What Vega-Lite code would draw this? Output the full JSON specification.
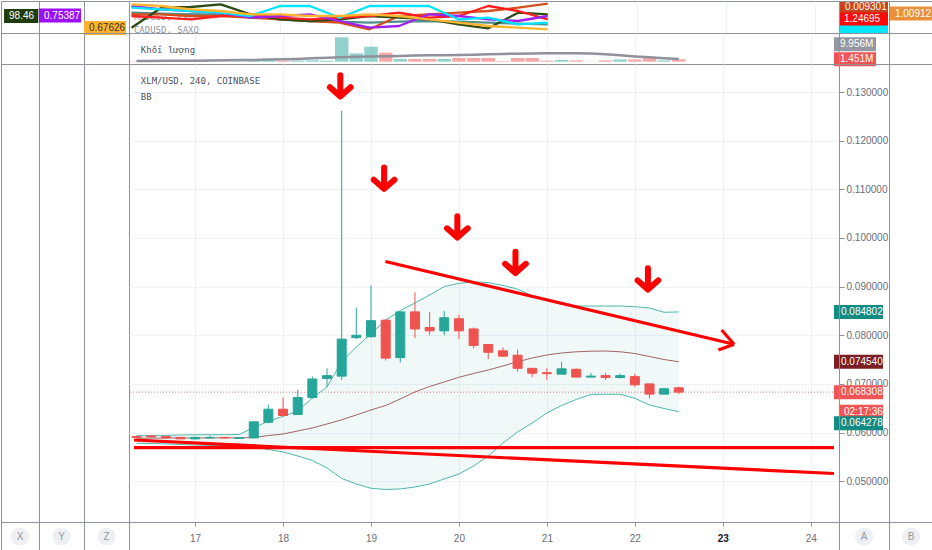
{
"$schema": "https://vega.github.io/schema/vega-lite/v6.json",
"background": "white",
"padding": 0,
"autosize": {"type": "pad"},
"columns": 6,
"spacing": 0,
"bounds": "flush",
"align": "each",
"config": {
  "view": {"stroke": null},
  "font": "Liberation Sans",
  "axis": {"labelFont": "Liberation Sans", "labelFontSize": 10, "labelColor": "#6a6d78", "gridColor": "#eef1f6", "domainColor": "#8f929c", "tickColor": "#8f929c"}
},
"datasets": {
  "candles": [
    {"t":16.333,"o":0.0592,"h":0.0593,"l":0.0589,"c":0.0590,"bu":0.05935,"bm":0.05885,"bl":0.05779,"vol":0.2,"vma":0.4},
    {"t":16.5,"o":0.0593,"h":0.0595,"l":0.0590,"c":0.0591,"bu":0.05939,"bm":0.05886,"bl":0.05775,"vol":0.3,"vma":0.45},
    {"t":16.667,"o":0.0592,"h":0.0593,"l":0.0588,"c":0.0589,"bu":0.05943,"bm":0.05887,"bl":0.05765,"vol":0.3,"vma":0.5},
    {"t":16.833,"o":0.0590,"h":0.0591,"l":0.0586,"c":0.0587,"bu":0.0595,"bm":0.05888,"bl":0.05755,"vol":0.2,"vma":0.55},
    {"t":17.0,"o":0.0587,"h":0.0592,"l":0.0586,"c":0.0590,"bu":0.05954,"bm":0.05889,"bl":0.05744,"vol":0.3,"vma":0.6},
    {"t":17.167,"o":0.0589,"h":0.0594,"l":0.0588,"c":0.0590,"bu":0.05956,"bm":0.0589,"bl":0.05734,"vol":0.2,"vma":0.7},
    {"t":17.333,"o":0.0590,"h":0.0591,"l":0.0588,"c":0.0589,"bu":0.05956,"bm":0.05891,"bl":0.0573,"vol":0.2,"vma":0.8},
    {"t":17.5,"o":0.0588,"h":0.0590,"l":0.0587,"c":0.0589,"bu":0.0596,"bm":0.05892,"bl":0.05724,"vol":0.3,"vma":0.9},
    {"t":17.667,"o":0.0589,"h":0.0623,"l":0.0588,"c":0.0622,"bu":0.06104,"bm":0.05897,"bl":0.05693,"vol":0.8,"vma":1.0},
    {"t":17.833,"o":0.0621,"h":0.0657,"l":0.0619,"c":0.0648,"bu":0.06231,"bm":0.05939,"bl":0.05652,"vol":1.6,"vma":1.2},
    {"t":18.0,"o":0.0648,"h":0.0672,"l":0.0633,"c":0.0635,"bu":0.06334,"bm":0.0597,"bl":0.056,"vol":0.6,"vma":1.4},
    {"t":18.167,"o":0.0637,"h":0.0688,"l":0.0636,"c":0.0672,"bu":0.06443,"bm":0.06032,"bl":0.05518,"vol":0.6,"vma":1.6},
    {"t":18.333,"o":0.0672,"h":0.0715,"l":0.0670,"c":0.0710,"bu":0.06714,"bm":0.06094,"bl":0.05426,"vol":0.8,"vma":1.9},
    {"t":18.5,"o":0.0711,"h":0.0732,"l":0.0694,"c":0.0717,"bu":0.06936,"bm":0.06176,"bl":0.05271,"vol":0.6,"vma":2.2},
    {"t":18.667,"o":0.0716,"h":0.1261,"l":0.0708,"c":0.0792,"bu":0.0746,"bm":0.06262,"bl":0.05056,"vol":13.83,"vma":2.5},
    {"t":18.833,"o":0.0795,"h":0.0857,"l":0.0792,"c":0.0800,"bu":0.07758,"bm":0.06361,"bl":0.04943,"vol":4.7,"vma":2.8},
    {"t":19.0,"o":0.0797,"h":0.0903,"l":0.0795,"c":0.0830,"bu":0.08026,"bm":0.06464,"bl":0.04854,"vol":8.5,"vma":3.0},
    {"t":19.167,"o":0.0831,"h":0.0833,"l":0.0748,"c":0.0753,"bu":0.08313,"bm":0.06556,"bl":0.0483,"vol":5.1,"vma":3.15},
    {"t":19.333,"o":0.0754,"h":0.0849,"l":0.0744,"c":0.0848,"bu":0.08509,"bm":0.0669,"bl":0.0484,"vol":1.53,"vma":3.3},
    {"t":19.5,"o":0.0848,"h":0.0888,"l":0.0794,"c":0.0813,"bu":0.08663,"bm":0.06834,"bl":0.04881,"vol":1.53,"vma":3.45},
    {"t":19.667,"o":0.0816,"h":0.0848,"l":0.0800,"c":0.0809,"bu":0.08827,"bm":0.06947,"bl":0.04943,"vol":1.53,"vma":3.6},
    {"t":19.833,"o":0.0809,"h":0.0850,"l":0.0800,"c":0.0836,"bu":0.09002,"bm":0.07039,"bl":0.05045,"vol":1.53,"vma":3.7},
    {"t":20.0,"o":0.0834,"h":0.0842,"l":0.0792,"c":0.0809,"bu":0.09068,"bm":0.07136,"bl":0.05148,"vol":2.1,"vma":3.85},
    {"t":20.167,"o":0.0813,"h":0.0816,"l":0.0773,"c":0.0779,"bu":0.09095,"bm":0.07214,"bl":0.05312,"vol":2.1,"vma":4.0},
    {"t":20.333,"o":0.0781,"h":0.0782,"l":0.0751,"c":0.0765,"bu":0.09085,"bm":0.07286,"bl":0.05518,"vol":2.1,"vma":4.2},
    {"t":20.5,"o":0.0768,"h":0.0775,"l":0.0756,"c":0.0757,"bu":0.09023,"bm":0.07368,"bl":0.05785,"vol":0.3,"vma":4.4},
    {"t":20.667,"o":0.0759,"h":0.0770,"l":0.0725,"c":0.0732,"bu":0.08951,"bm":0.07456,"bl":0.06011,"vol":2.1,"vma":4.55},
    {"t":20.833,"o":0.0732,"h":0.0733,"l":0.0714,"c":0.0722,"bu":0.08813,"bm":0.07532,"bl":0.06196,"vol":2.1,"vma":4.7},
    {"t":21.0,"o":0.0723,"h":0.0732,"l":0.0708,"c":0.0721,"bu":0.08714,"bm":0.07594,"bl":0.06402,"vol":0.57,"vma":4.76},
    {"t":21.167,"o":0.0720,"h":0.0746,"l":0.0720,"c":0.0731,"bu":0.08638,"bm":0.07635,"bl":0.06556,"vol":0.96,"vma":4.76},
    {"t":21.333,"o":0.0730,"h":0.0732,"l":0.0714,"c":0.0714,"bu":0.08601,"bm":0.0766,"bl":0.06679,"vol":0.75,"vma":4.76},
    {"t":21.5,"o":0.0714,"h":0.0722,"l":0.0714,"c":0.0716,"bu":0.08601,"bm":0.07672,"bl":0.06782,"vol":0.1,"vma":4.7},
    {"t":21.667,"o":0.0717,"h":0.0722,"l":0.0708,"c":0.0713,"bu":0.08601,"bm":0.07676,"bl":0.06786,"vol":0.75,"vma":4.2},
    {"t":21.833,"o":0.0713,"h":0.0721,"l":0.0711,"c":0.0717,"bu":0.08601,"bm":0.0766,"bl":0.06786,"vol":1.3,"vma":3.6},
    {"t":22.0,"o":0.0715,"h":0.0721,"l":0.0694,"c":0.0698,"bu":0.08587,"bm":0.07625,"bl":0.06704,"vol":1.3,"vma":3.0},
    {"t":22.167,"o":0.0700,"h":0.0701,"l":0.0670,"c":0.0679,"bu":0.0856,"bm":0.07563,"bl":0.06566,"vol":2.27,"vma":2.5},
    {"t":22.333,"o":0.0679,"h":0.0692,"l":0.0678,"c":0.0690,"bu":0.08472,"bm":0.07501,"bl":0.06494,"vol":0.75,"vma":2.0},
    {"t":22.5,"o":0.0692,"h":0.0694,"l":0.0679,"c":0.068308,"bu":0.084802,"bm":0.07454,"bl":0.064278,"vol":1.451,"vma":1.5}
  ],
  "cmp": [
    {"t":16.333,"teal":20.3,"rust":18.7,"dkgreen":5.3,"red":17,"purple":27,"cyan":25.3,"amber":28.7},
    {"t":16.667,"teal":19.3,"rust":18.7,"dkgreen":25.3,"red":15.3,"purple":23.7,"cyan":23.7,"amber":27},
    {"t":17.0,"teal":18.7,"rust":17,"dkgreen":26,"red":13.7,"purple":22,"cyan":22,"amber":23.7},
    {"t":17.333,"teal":18.7,"rust":17,"dkgreen":28.7,"red":17,"purple":20.3,"cyan":20.3,"amber":22},
    {"t":17.667,"teal":17,"rust":15.3,"dkgreen":18.7,"red":18.7,"purple":15.3,"cyan":17,"amber":18.7},
    {"t":18.0,"teal":13.7,"rust":13.7,"dkgreen":13.7,"red":15.3,"purple":17,"cyan":27,"amber":18.7},
    {"t":18.333,"teal":12,"rust":12,"dkgreen":12,"red":13.7,"purple":18.7,"cyan":27,"amber":17},
    {"t":18.667,"teal":11.3,"rust":10.3,"dkgreen":13.7,"red":15.3,"purple":12,"cyan":15.3,"amber":17},
    {"t":19.0,"teal":10.3,"rust":3.7,"dkgreen":17,"red":17,"purple":5.3,"cyan":27,"amber":18.7},
    {"t":19.333,"teal":11.3,"rust":17,"dkgreen":15.3,"red":20.3,"purple":7,"cyan":27,"amber":17},
    {"t":19.667,"teal":12,"rust":18.7,"dkgreen":13.7,"red":15.3,"purple":18.7,"cyan":27,"amber":13.7},
    {"t":20.0,"teal":11.3,"rust":20.3,"dkgreen":8.7,"red":17,"purple":17,"cyan":13.7,"amber":10.3},
    {"t":20.333,"teal":10.3,"rust":22,"dkgreen":4.7,"red":27,"purple":13.7,"cyan":15.3,"amber":7},
    {"t":20.667,"teal":9.3,"rust":25.3,"dkgreen":20.3,"red":22,"purple":12,"cyan":8.7,"amber":5.3},
    {"t":21.0,"teal":8.7,"rust":29.3,"dkgreen":18.7,"red":13.7,"purple":17,"cyan":10.3,"amber":3.7}
  ],
  "cmpText": [
    {"t":16.36,"v":13,"label":"AUDUSD, FXCM"},
    {"t":16.36,"v":0.5,"label":"CADUSD, SAXO"}
  ],
  "volText": [
    {"t":16.383,"v":5.1,"label":"Khối lượng"}
  ],
  "mainText": [
    {"t":16.383,"v":0.13165,"label":"XLM/USD, 240, COINBASE"},
    {"t":16.383,"v":0.12846,"label":"BB"}
  ],
  "cmpBadges": [
    {"t":14.904,"v":17,"label":"98.46","kind":"left5","tone":"darkgreen"},
    {"t":15.296,"v":17.5,"label":"0.75387","kind":"narrow","tone":"purple"},
    {"t":15.8,"v":5,"label":"0.67626","kind":"narrow","tone":"amber"},
    {"t":24.265,"v":4,"label":"","kind":"strip","tone":"cyan"},
    {"t":24.265,"v":14.5,"label":"1.24695","kind":"wide","tone":"scarlet"},
    {"t":24.265,"v":27.5,"label":"0.009301","kind":"short","tone":"rust"},
    {"t":24.836,"v":19.5,"label":"1.00912","kind":"narrow","tone":"orange"}
  ],
  "volBadges": [
    {"t":24.265,"v":9.956,"label":"9.956M","kind":"narrow","tone":"gray"},
    {"t":24.265,"v":1.451,"label":"1.451M","kind":"narrow","tone":"red"}
  ],
  "mainBadges": [
    {"t":24.265,"v":0.084802,"label":"0.084802","kind":"wide","tone":"teal"},
    {"t":24.265,"v":0.07454,"label":"0.074540","kind":"wide","tone":"maroon"},
    {"t":24.265,"v":0.068308,"label":"0.068308","kind":"wide","tone":"red"},
    {"t":24.265,"v":0.068308,"label":"02:17:36","kind":"timer","tone":"red"},
    {"t":24.265,"v":0.064278,"label":"0.064278","kind":"low","tone":"teal"}
  ],
  "last": [{"price": 0.068308}],
  "lines": [
    {"t1":19.164,"v1":0.09516,"t2":23.129,"v2":0.07814},
    {"t1":22.987,"v1":0.08108,"t2":23.129,"v2":0.07814},
    {"t1":22.95,"v1":0.07697,"t2":23.129,"v2":0.07814},
    {"t1":16.305,"v1":0.05689,"t2":24.265,"v2":0.05689},
    {"t1":16.305,"v1":0.05847,"t2":24.265,"v2":0.05158}
  ],
  "arrows": [
    {"t":18.651,"v":0.1311},
    {"t":19.149,"v":0.1121},
    {"t":19.982,"v":0.1021},
    {"t":20.643,"v":0.0948},
    {"t":22.149,"v":0.0914}
  ]
},
"concat": [
  {"width": 38, "height": 32, "view": {"stroke": "#8f929c"}, "data": {"values": []}, "mark": "point", "encoding": {}},
  {"width": 45, "height": 32, "view": {"stroke": "#8f929c"}, "data": {"values": []}, "mark": "point", "encoding": {}},
  {"width": 45, "height": 32, "view": {"stroke": "#8f929c"}, "data": {"values": []}, "mark": "point", "encoding": {}},
  {
    "width": 710, "height": 32, "view": {"stroke": "#8f929c"},
    "layer": [
      {"data": {"name": "cmpText"},
       "mark": {"type": "text", "align": "left", "baseline": "alphabetic", "font": "DejaVu Sans Mono", "fontSize": 9, "color": "#9598a1"},
       "encoding": {
         "x": {"field": "t", "type": "quantitative", "scale": {"domain": [16.305, 24.265], "nice": false, "zero": false}, "axis": {"orient": "bottom", "values": [17,18,19,20,21,22,23,24], "labels": false, "ticks": false, "domain": false, "grid": true, "title": null}},
         "y": {"field": "v", "type": "quantitative", "scale": {"domain": [0, 32], "nice": false, "zero": false}, "axis": null},
         "text": {"field": "label", "type": "nominal"}
       }},
      {"data": {"name": "cmp"},
       "transform": [{"fold": ["teal","rust","dkgreen","red","purple","cyan","amber"], "as": ["s","val"]}],
       "mark": {"type": "line", "strokeWidth": 2.3, "strokeJoin": "round", "strokeCap": "butt"},
       "encoding": {
         "x": {"field": "t", "type": "quantitative", "scale": {"domain": [16.305, 24.265], "nice": false, "zero": false}, "title": null},
         "y": {"field": "val", "type": "quantitative", "scale": {"domain": [0, 32], "nice": false, "zero": false}, "title": null},
         "stroke": {"field": "s", "type": "nominal", "legend": null, "scale": {"domain": ["teal","rust","dkgreen","red","purple","cyan","amber"], "range": ["#4f8f8f","#d4501c","#2e4d16","#ff1f1f","#a020f0","#00e5ff","#ffb52e"]}}
       }},
      {"data": {"name": "cmpBadges"},
       "layer": [
         {"mark": {"type": "point", "filled": true, "size": 196, "opacity": 1},
          "encoding": {
            "x": {"field": "t", "type": "quantitative", "scale": {"domain": [16.305, 24.265], "nice": false, "zero": false}, "title": null},
            "y": {"field": "v", "type": "quantitative", "scale": {"domain": [0, 32], "nice": false, "zero": false}, "title": null},
            "fill": {"field": "tone", "type": "nominal", "legend": null, "scale": {"domain": ["teal","maroon","red","gray","darkgreen","purple","amber","rust","cyan","scarlet","orange"], "range": ["#138a82","#7b1f24","#f05454","#9598a1","#1f3d0c","#9b10f5","#ffb22e","#c8421c","#00e5ff","#ff0a0a","#e8913a"]}},
            "shape": {"field": "kind", "type": "nominal", "legend": null, "scale": {"domain": ["wide","narrow","timer","low","strip","short","left5"], "range": ["M0,-1H7V1H0Z","M0,-1H6V1H0Z","M0.7,1.79H7V3.79H0.7Z","M0,0.66H7V2.66H0Z","M0,-1H7V0.6H0Z","M0,-0.55H7V1H0Z","M0,-1H4.9V1H0Z"]}}
          }},
         {"transform": [{"filter": "datum.kind == 'wide' || datum.kind == 'narrow' || datum.kind == 'left5'"}],
          "mark": {"type": "text", "align": "left", "baseline": "middle", "dx": 5, "fontSize": 10},
          "encoding": {
            "x": {"field": "t", "type": "quantitative", "scale": {"domain": [16.305, 24.265], "nice": false, "zero": false}, "title": null},
            "y": {"field": "v", "type": "quantitative", "scale": {"domain": [0, 32], "nice": false, "zero": false}, "title": null},
            "text": {"field": "label", "type": "nominal"},
            "color": {"condition": {"test": "datum.tone == 'amber'", "value": "#333333"}, "value": "#ffffff"}
          }},
         {"transform": [{"filter": "datum.kind == 'short'"}],
          "mark": {"type": "text", "align": "left", "baseline": "middle", "dx": 6, "dy": 1.5, "fontSize": 10, "color": "#ffffff"},
          "encoding": {
            "x": {"field": "t", "type": "quantitative", "scale": {"domain": [16.305, 24.265], "nice": false, "zero": false}, "title": null},
            "y": {"field": "v", "type": "quantitative", "scale": {"domain": [0, 32], "nice": false, "zero": false}, "title": null},
            "text": {"field": "label", "type": "nominal"}
          }}
       ]}
    ]
  },
  {"width": 50, "height": 32, "view": {"stroke": "#8f929c"}, "data": {"values": []}, "mark": "point", "encoding": {}},
  {"width": 44, "height": 32, "view": {"stroke": "#8f929c"}, "data": {"values": []}, "mark": "point", "encoding": {}},

  {"width": 38, "height": 31, "view": {"stroke": "#8f929c"}, "data": {"values": []}, "mark": "point", "encoding": {}},
  {"width": 45, "height": 31, "view": {"stroke": "#8f929c"}, "data": {"values": []}, "mark": "point", "encoding": {}},
  {"width": 45, "height": 31, "view": {"stroke": "#8f929c"}, "data": {"values": []}, "mark": "point", "encoding": {}},
  {
    "width": 710, "height": 31, "view": {"stroke": "#8f929c"},
    "layer": [
      {"data": {"name": "candles"},
       "mark": {"type": "bar", "width": 13.5, "opacity": 0.5},
       "encoding": {
         "x": {"field": "t", "type": "quantitative", "scale": {"domain": [16.305, 24.265], "nice": false, "zero": false}, "axis": {"orient": "bottom", "values": [17,18,19,20,21,22,23,24], "labels": false, "ticks": false, "domain": false, "grid": true, "title": null}},
         "y": {"field": "vol", "type": "quantitative", "scale": {"domain": [-1.3, 16.27], "nice": false, "zero": false}, "axis": null},
         "y2": {"datum": 0},
         "color": {"condition": {"test": "datum.c >= datum.o", "value": "#26a69a"}, "value": "#ef5350"}
       }},
      {"data": {"name": "candles"},
       "mark": {"type": "line", "color": "#8f929c", "strokeWidth": 2.5, "strokeJoin": "round"},
       "encoding": {
         "x": {"field": "t", "type": "quantitative", "scale": {"domain": [16.305, 24.265], "nice": false, "zero": false}, "title": null},
         "y": {"field": "vma", "type": "quantitative", "scale": {"domain": [-1.3, 16.27], "nice": false, "zero": false}, "title": null}
       }},
      {"data": {"name": "volText"},
       "mark": {"type": "text", "align": "left", "baseline": "alphabetic", "font": "DejaVu Sans Mono", "fontSize": 9, "color": "#50535e"},
       "encoding": {
         "x": {"field": "t", "type": "quantitative", "scale": {"domain": [16.305, 24.265], "nice": false, "zero": false}, "title": null},
         "y": {"field": "v", "type": "quantitative", "scale": {"domain": [-1.3, 16.27], "nice": false, "zero": false}, "title": null},
         "text": {"field": "label", "type": "nominal"}
       }},
      {"data": {"name": "volBadges"},
       "layer": [
         {"mark": {"type": "point", "filled": true, "size": 196, "opacity": 1},
          "encoding": {
            "x": {"field": "t", "type": "quantitative", "scale": {"domain": [16.305, 24.265], "nice": false, "zero": false}, "title": null},
            "y": {"field": "v", "type": "quantitative", "scale": {"domain": [-1.3, 16.27], "nice": false, "zero": false}, "title": null},
            "fill": {"field": "tone", "type": "nominal", "legend": null, "scale": {"domain": ["teal","maroon","red","gray","darkgreen","purple","amber","rust","cyan","scarlet","orange"], "range": ["#138a82","#7b1f24","#f05454","#9598a1","#1f3d0c","#9b10f5","#ffb22e","#c8421c","#00e5ff","#ff0a0a","#e8913a"]}},
            "shape": {"field": "kind", "type": "nominal", "legend": null, "scale": {"domain": ["wide","narrow","timer","low","strip","short","left5"], "range": ["M0,-1H7V1H0Z","M0,-1H6V1H0Z","M0.7,1.79H7V3.79H0.7Z","M0,0.66H7V2.66H0Z","M0,-1H7V0.6H0Z","M0,-0.55H7V1H0Z","M0,-1H4.9V1H0Z"]}}
          }},
         {"mark": {"type": "text", "align": "left", "baseline": "middle", "dx": 6, "fontSize": 10, "color": "#ffffff"},
          "encoding": {
            "x": {"field": "t", "type": "quantitative", "scale": {"domain": [16.305, 24.265], "nice": false, "zero": false}, "title": null},
            "y": {"field": "v", "type": "quantitative", "scale": {"domain": [-1.3, 16.27], "nice": false, "zero": false}, "title": null},
            "text": {"field": "label", "type": "nominal"}
          }}
       ]}
    ]
  },
  {"width": 50, "height": 31, "view": {"stroke": "#8f929c"}, "data": {"values": []}, "mark": "point", "encoding": {}},
  {"width": 44, "height": 31, "view": {"stroke": "#8f929c"}, "data": {"values": []}, "mark": "point", "encoding": {}},

  {"width": 38, "height": 458, "view": {"stroke": "#8f929c"}, "data": {"values": []}, "mark": "point", "encoding": {}},
  {"width": 45, "height": 458, "view": {"stroke": "#8f929c"}, "data": {"values": []}, "mark": "point", "encoding": {}},
  {"width": 45, "height": 458, "view": {"stroke": "#8f929c"}, "data": {"values": []}, "mark": "point", "encoding": {}},
  {
    "width": 710, "height": 458, "view": {"stroke": "#8f929c"},
    "layer": [
      {"data": {"name": "candles"},
       "mark": {"type": "area", "color": "#26a69a", "opacity": 0.07},
       "encoding": {
         "x": {"field": "t", "type": "quantitative", "scale": {"domain": [16.305, 24.265], "nice": false, "zero": false},
               "axis": {"orient": "bottom", "values": [17,18,19,20,21,22,23,24], "format": "d", "grid": true, "tickSize": 4, "labelPadding": 7, "title": null,
                        "labelFontWeight": {"condition": {"test": "datum.value == 23", "value": "bold"}, "value": "normal"},
                        "labelColor": {"condition": {"test": "datum.value == 23", "value": "#131722"}, "value": "#6a6d78"}}},
         "y": {"field": "bl", "type": "quantitative", "scale": {"domain": [0.04161, 0.13576], "nice": false, "zero": false},
               "axis": {"orient": "right", "values": [0.05,0.06,0.07,0.08,0.09,0.1,0.11,0.12,0.13], "format": ".6f", "grid": true, "tickSize": 5, "labelPadding": 2, "title": null}},
         "y2": {"field": "bu"}
       }},
      {"data": {"name": "mainText"},
       "mark": {"type": "text", "align": "left", "baseline": "alphabetic", "font": "DejaVu Sans Mono", "fontSize": 9, "color": "#50535e"},
       "encoding": {
         "x": {"field": "t", "type": "quantitative", "scale": {"domain": [16.305, 24.265], "nice": false, "zero": false}, "title": null},
         "y": {"field": "v", "type": "quantitative", "scale": {"domain": [0.04161, 0.13576], "nice": false, "zero": false}, "title": null},
         "text": {"field": "label", "type": "nominal"}
       }},
      {"data": {"name": "last"},
       "mark": {"type": "rule", "color": "#ef5350", "strokeDash": [1, 2], "strokeWidth": 1, "opacity": 0.8},
       "encoding": {"y": {"field": "price", "type": "quantitative", "scale": {"domain": [0.04161, 0.13576], "nice": false, "zero": false}, "title": null}}},
      {"data": {"name": "candles"},
       "mark": {"type": "line", "color": "#8e3f3f", "strokeWidth": 1, "opacity": 0.8, "strokeJoin": "round"},
       "encoding": {
         "x": {"field": "t", "type": "quantitative", "scale": {"domain": [16.305, 24.265], "nice": false, "zero": false}, "title": null},
         "y": {"field": "bm", "type": "quantitative", "scale": {"domain": [0.04161, 0.13576], "nice": false, "zero": false}, "title": null}
       }},
      {"data": {"name": "candles"},
       "mark": {"type": "line", "color": "#26a69a", "strokeWidth": 1, "opacity": 0.8, "strokeJoin": "round"},
       "encoding": {
         "x": {"field": "t", "type": "quantitative", "scale": {"domain": [16.305, 24.265], "nice": false, "zero": false}, "title": null},
         "y": {"field": "bu", "type": "quantitative", "scale": {"domain": [0.04161, 0.13576], "nice": false, "zero": false}, "title": null}
       }},
      {"data": {"name": "candles"},
       "mark": {"type": "line", "color": "#26a69a", "strokeWidth": 1, "opacity": 0.8, "strokeJoin": "round"},
       "encoding": {
         "x": {"field": "t", "type": "quantitative", "scale": {"domain": [16.305, 24.265], "nice": false, "zero": false}, "title": null},
         "y": {"field": "bl", "type": "quantitative", "scale": {"domain": [0.04161, 0.13576], "nice": false, "zero": false}, "title": null}
       }},
      {"data": {"name": "candles"},
       "mark": {"type": "rule", "strokeWidth": 1},
       "encoding": {
         "x": {"field": "t", "type": "quantitative", "scale": {"domain": [16.305, 24.265], "nice": false, "zero": false}, "title": null},
         "y": {"field": "l", "type": "quantitative", "scale": {"domain": [0.04161, 0.13576], "nice": false, "zero": false}, "title": null},
         "y2": {"field": "h"},
         "color": {"condition": {"test": "datum.c >= datum.o", "value": "#26a69a"}, "value": "#ef5350"}
       }},
      {"data": {"name": "candles"},
       "mark": {"type": "bar", "width": 9, "strokeWidth": 1},
       "encoding": {
         "x": {"field": "t", "type": "quantitative", "scale": {"domain": [16.305, 24.265], "nice": false, "zero": false}, "title": null},
         "y": {"field": "o", "type": "quantitative", "scale": {"domain": [0.04161, 0.13576], "nice": false, "zero": false}, "title": null},
         "y2": {"field": "c"},
         "color": {"condition": {"test": "datum.c >= datum.o", "value": "#26a69a"}, "value": "#ef5350"},
         "stroke": {"condition": {"test": "datum.c >= datum.o", "value": "#26a69a"}, "value": "#ef5350"}
       }},
      {"data": {"name": "lines"},
       "mark": {"type": "rule", "color": "#ff0000", "strokeWidth": 3.2, "strokeCap": "butt"},
       "encoding": {
         "x": {"field": "t1", "type": "quantitative", "scale": {"domain": [16.305, 24.265], "nice": false, "zero": false}, "title": null},
         "y": {"field": "v1", "type": "quantitative", "scale": {"domain": [0.04161, 0.13576], "nice": false, "zero": false}, "title": null},
         "x2": {"field": "t2"},
         "y2": {"field": "v2"}
       }},
      {"data": {"name": "arrows"},
       "mark": {"type": "point", "shape": "M0,-1V0.75M-0.9,0.05L0,0.85L0.9,0.05", "size": 529, "filled": false, "stroke": "#ff0000", "strokeWidth": 6, "strokeCap": "round", "strokeJoin": "round", "opacity": 1},
       "encoding": {
         "x": {"field": "t", "type": "quantitative", "scale": {"domain": [16.305, 24.265], "nice": false, "zero": false}, "title": null},
         "y": {"field": "v", "type": "quantitative", "scale": {"domain": [0.04161, 0.13576], "nice": false, "zero": false}, "title": null}
       }},
      {"data": {"name": "mainBadges"},
       "layer": [
         {"mark": {"type": "point", "filled": true, "size": 196, "opacity": 1},
          "encoding": {
            "x": {"field": "t", "type": "quantitative", "scale": {"domain": [16.305, 24.265], "nice": false, "zero": false}, "title": null},
            "y": {"field": "v", "type": "quantitative", "scale": {"domain": [0.04161, 0.13576], "nice": false, "zero": false}, "title": null},
            "fill": {"field": "tone", "type": "nominal", "legend": null, "scale": {"domain": ["teal","maroon","red","gray","darkgreen","purple","amber","rust","cyan","scarlet","orange"], "range": ["#138a82","#7b1f24","#f05454","#9598a1","#1f3d0c","#9b10f5","#ffb22e","#c8421c","#00e5ff","#ff0a0a","#e8913a"]}},
            "shape": {"field": "kind", "type": "nominal", "legend": null, "scale": {"domain": ["wide","narrow","timer","low","strip","short","left5"], "range": ["M0,-1H7V1H0Z","M0,-1H6V1H0Z","M0.7,1.79H7V3.79H0.7Z","M0,0.66H7V2.66H0Z","M0,-1H7V0.6H0Z","M0,-0.55H7V1H0Z","M0,-1H4.9V1H0Z"]}}
          }},
         {"transform": [{"filter": "datum.kind == 'wide'"}],
          "mark": {"type": "text", "align": "left", "baseline": "middle", "dx": 7, "fontSize": 10, "color": "#ffffff"},
          "encoding": {
            "x": {"field": "t", "type": "quantitative", "scale": {"domain": [16.305, 24.265], "nice": false, "zero": false}, "title": null},
            "y": {"field": "v", "type": "quantitative", "scale": {"domain": [0.04161, 0.13576], "nice": false, "zero": false}, "title": null},
            "text": {"field": "label", "type": "nominal"}
          }},
         {"transform": [{"filter": "datum.kind == 'timer'"}],
          "mark": {"type": "text", "align": "left", "baseline": "middle", "dx": 10, "dy": 19.5, "fontSize": 10, "color": "#ffffff"},
          "encoding": {
            "x": {"field": "t", "type": "quantitative", "scale": {"domain": [16.305, 24.265], "nice": false, "zero": false}, "title": null},
            "y": {"field": "v", "type": "quantitative", "scale": {"domain": [0.04161, 0.13576], "nice": false, "zero": false}, "title": null},
            "text": {"field": "label", "type": "nominal"}
          }},
         {"transform": [{"filter": "datum.kind == 'low'"}],
          "mark": {"type": "text", "align": "left", "baseline": "middle", "dx": 7, "dy": 11.6, "fontSize": 10, "color": "#ffffff"},
          "encoding": {
            "x": {"field": "t", "type": "quantitative", "scale": {"domain": [16.305, 24.265], "nice": false, "zero": false}, "title": null},
            "y": {"field": "v", "type": "quantitative", "scale": {"domain": [0.04161, 0.13576], "nice": false, "zero": false}, "title": null},
            "text": {"field": "label", "type": "nominal"}
          }}
       ]}
    ]
  },
  {"width": 50, "height": 458, "view": {"stroke": "#8f929c"}, "data": {"values": []}, "mark": "point", "encoding": {}},
  {"width": 44, "height": 458, "view": {"stroke": "#8f929c"}, "data": {"values": []}, "mark": "point", "encoding": {}},

  {"width": 38, "height": 29, "view": {"stroke": "#8f929c"}, "data": {"values": [{"letter": "X"}]},
   "layer": [{"mark": {"type": "point", "filled": true, "size": 330, "color": "#eef0f4", "opacity": 1}, "encoding": {}},
             {"mark": {"type": "text", "fontSize": 10, "color": "#9598a1"}, "encoding": {"text": {"field": "letter", "type": "nominal"}}}]},
  {"width": 45, "height": 29, "view": {"stroke": "#8f929c"}, "data": {"values": [{"letter": "Y"}]},
   "layer": [{"mark": {"type": "point", "filled": true, "size": 330, "color": "#eef0f4", "opacity": 1}, "encoding": {}},
             {"mark": {"type": "text", "fontSize": 10, "color": "#9598a1"}, "encoding": {"text": {"field": "letter", "type": "nominal"}}}]},
  {"width": 45, "height": 29, "view": {"stroke": "#8f929c"}, "data": {"values": [{"letter": "Z"}]},
   "layer": [{"mark": {"type": "point", "filled": true, "size": 330, "color": "#eef0f4", "opacity": 1}, "encoding": {}},
             {"mark": {"type": "text", "fontSize": 10, "color": "#9598a1"}, "encoding": {"text": {"field": "letter", "type": "nominal"}}}]},
  {"width": 710, "height": 29, "data": {"values": []}, "mark": "point", "encoding": {}},
  {"width": 50, "height": 29, "view": {"stroke": "#8f929c"}, "data": {"values": [{"letter": "A"}]},
   "layer": [{"mark": {"type": "point", "filled": true, "size": 330, "color": "#eef0f4", "opacity": 1}, "encoding": {}},
             {"mark": {"type": "text", "fontSize": 10, "color": "#9598a1"}, "encoding": {"text": {"field": "letter", "type": "nominal"}}}]},
  {"width": 44, "height": 29, "view": {"stroke": "#8f929c"}, "data": {"values": [{"letter": "B"}]},
   "layer": [{"mark": {"type": "point", "filled": true, "size": 330, "color": "#eef0f4", "opacity": 1}, "encoding": {}},
             {"mark": {"type": "text", "fontSize": 10, "color": "#9598a1"}, "encoding": {"text": {"field": "letter", "type": "nominal"}}}]}
]
}
